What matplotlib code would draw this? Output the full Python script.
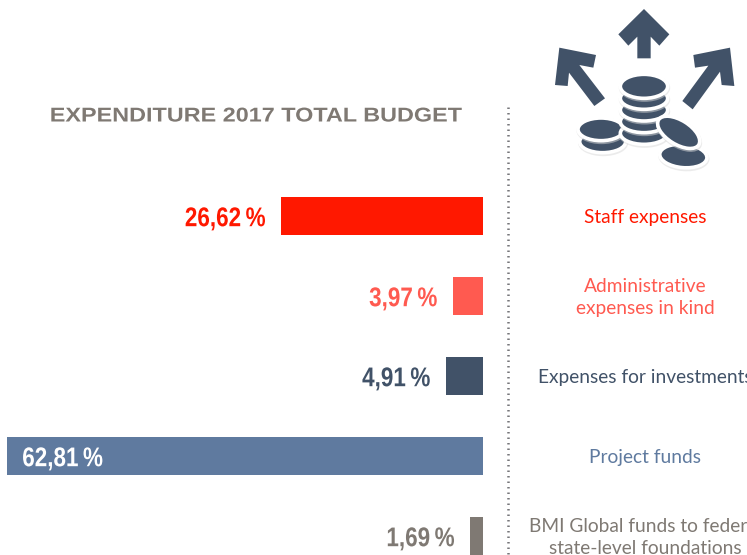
import matplotlib
matplotlib.use('Agg')
import matplotlib.pyplot as plt
from matplotlib.patches import Polygon, Ellipse
from matplotlib.patheffects import AbstractPathEffect
from matplotlib.transforms import Affine2D

categories = ['Staff expenses', 'Administrative\nexpenses in kind', 'Expenses for investments',
              'Project funds', 'BMI Global funds to federal\nstate-level foundations']
values = [26.62, 3.97, 4.91, 62.81, 1.69]
value_labels = ['26,62\u2009%', '3,97\u2009%', '4,91\u2009%', '62,81\u2009%', '1,69\u2009%']
colors = ['#ff1800', '#ff5a50', '#415268', '#5f7a9f', '#7f7973']
title = 'EXPENDITURE 2017 TOTAL BUDGET'

W, H = 747, 555
DARK = '#415268'


class Stretch(AbstractPathEffect):
    # no condensed/extended fonts installed, so scale the glyphs sideways
    def __init__(self, sx, anchor='left'):
        super().__init__()
        self.sx = sx
        self.anchor = anchor

    def draw_path(self, renderer, gc, tpath, affine, rgbFace=None):
        ext = tpath.get_extents()
        px = ext.x1 if self.anchor == 'right' else ext.x0
        t = Affine2D().translate(-px, 0).scale(self.sx, 1).translate(px, 0)
        renderer.draw_path(gc, tpath, t + affine, rgbFace)


fig = plt.figure(figsize=(W / 100, H / 100), dpi=100, facecolor='white')

# 7.58 px per percent, zero at x=483; rows 80 px apart starting at y=216
ax = fig.add_axes([0, 0, 1, 1])
ax.set_xlim(483 / 7.58, (483 - W) / 7.58)
ax.set_ylim((H - 216) / 80, -216 / 80)
ax.axis('off')

ax.barh(range(len(values)), values, height=0.475, color=colors)

for i, (v, lab, c) in enumerate(zip(values, value_labels, colors)):
    if v > 50:
        ax.text(v - 2, i + 0.04, lab, color='white', ha='left', va='center',
                fontsize=19.5, fontweight='bold', family='Liberation Sans',
                path_effects=[Stretch(0.83, 'left')])
    else:
        ax.text(v + 2, i + 0.04, lab, color=c, ha='right', va='center',
                fontsize=19.5, fontweight='bold', family='Liberation Sans',
                path_effects=[Stretch(0.83, 'right')])

# everything else is in pixel coordinates
ov = fig.add_axes([0, 0, 1, 1], facecolor='none')
ov.set_xlim(0, W)
ov.set_ylim(H, 0)
ov.axis('off')

ov.text(50, 116, title, color='#7f7973', fontsize=14.4, fontweight='bold',
        family='Liberation Sans', ha='left', va='center',
        path_effects=[Stretch(1.17, 'left')])
ov.plot([508, 508], [107, H], color='#77777a', lw=1.8, linestyle=(0, (0.6, 1.6)))

for i, (cat, c) in enumerate(zip(categories, colors)):
    ov.text(645, 217.7 + 80 * i, cat, color=c, ha='center', va='center',
            fontsize=13.75, family='Lato', linespacing=1.33)


def zp(points):
    return [(540 + x / 3, y / 3) for x, y in points]


arrows = [
    [(312, 27), (388, 103), (358, 137), (332, 110), (332, 175), (292, 175), (292, 110), (265, 137), (235, 103)],
    [(58, 143), (168, 165), (160, 203), (118, 195), (195, 295), (163, 318), (87, 218), (83, 258), (45, 255)],
    [(570, 143), (583, 258), (545, 255), (540, 215), (458, 328), (427, 303), (505, 197), (465, 203), (460, 165)],
]
for a in arrows:
    ov.add_patch(Polygon(zp(a), closed=True, fc=DARK, ec='none'))

# coins, back to front: x, y, width, height, angle in crop pixels
coins = [
    (188, 425, 138, 66, 0),
    (183, 388, 138, 68, 0),
    (312, 400, 142, 66, 0),
    (312, 365, 142, 66, 0),
    (312, 330, 142, 66, 0),
    (312, 295, 142, 66, 0),
    (312, 259, 142, 72, 0),
    (430, 468, 142, 70, 5),
    (416, 397, 142, 72, 32),
]
for x, y, w, h, ang in coins:
    cx, cy = zp([(x, y)])[0]
    ov.add_patch(Ellipse((cx + 0.5, cy + 1.5), w / 3 + 4, h / 3 + 4, angle=ang,
                         fc='#d8d8d8', ec='none', alpha=0.5))
    ov.add_patch(Ellipse((cx, cy), w / 3, h / 3, angle=ang, fc=DARK, ec='white', lw=2.6))

fig.savefig('out.png', dpi=100)
